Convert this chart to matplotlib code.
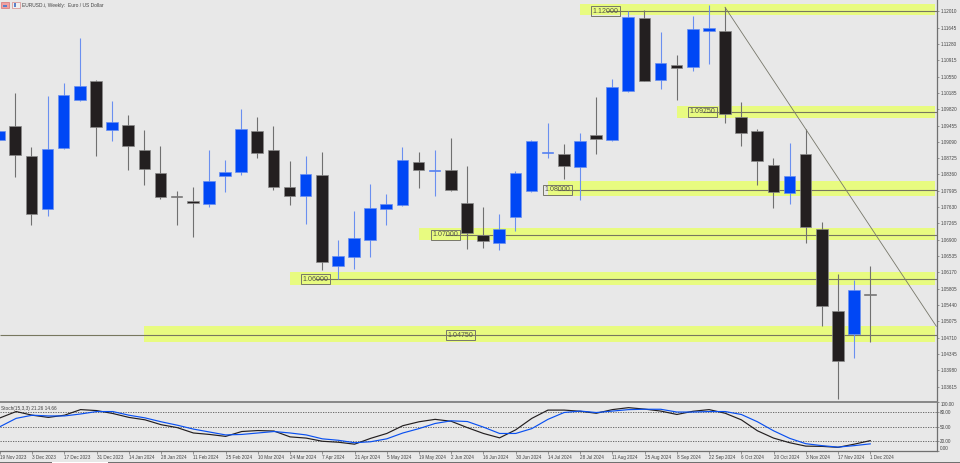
import matplotlib
matplotlib.use("Agg")
import matplotlib.pyplot as plt
from matplotlib.patches import Rectangle
import numpy as np

plt.rcParams['font.family'] = ['Liberation Sans', 'DejaVu Sans']

W, H = 960, 463
BG = '#E8E8E8'

opens = [1.09121,1.09449,1.08762,1.07576,1.08956,1.10031,1.10442,1.09352,1.09471,1.08912,1.08389,1.07867,1.07770,1.07695,
         1.08315,1.08419,1.09337,1.08912,1.08083,1.07867,1.08337,1.06314,1.06516,1.06896,1.07591,1.07680,1.08635,1.08434,
         1.08456,1.07710,1.07001,1.06829,1.07411,1.07979,1.08844,1.08822,1.08531,1.09233,1.09121,1.10225,1.11852,1.10464,
         1.10800,1.10755,1.11576,1.11561,1.09651,1.09337,1.08568,1.07934,1.08815,1.07135,1.05307,1.04792,1.05695]
highs = [1.09360,1.10188,1.08971,1.10106,1.10412,1.11405,1.10464,1.10001,1.09680,1.09345,1.08994,1.07979,1.08076,1.08904,
         1.08673,1.09822,1.09643,1.09442,1.08658,1.08770,1.08859,1.06904,1.07546,1.08143,1.07926,1.08971,1.08859,1.08904,
         1.09173,1.08538,1.07635,1.07479,1.08434,1.09128,1.09501,1.09039,1.09285,1.10098,1.10487,1.12009,1.12032,1.11554,
         1.11031,1.11905,1.12151,1.12099,1.09979,1.09374,1.08725,1.09068,1.09374,1.07292,1.06128,1.06008,1.06314]
lows = [1.09100,1.08292,1.07240,1.07426,1.08919,1.10009,1.08777,1.09113,1.08449,1.08135,1.07807,1.07225,1.06964,1.07628,
        1.07964,1.08352,1.08733,1.08016,1.07680,1.07255,1.06232,1.06016,1.06240,1.06516,1.07240,1.07650,1.08053,1.07882,
        1.07994,1.06687,1.06717,1.06665,1.07105,1.07964,1.08718,1.08255,1.07785,1.08822,1.09098,1.10210,1.10440,1.10263,
        1.10024,1.10681,1.10837,1.09509,1.09001,1.08113,1.07613,1.07695,1.06837,1.04971,1.03344,1.04262,1.04620]
closes = [1.09337,1.08785,1.07464,1.08934,1.10128,1.10345,1.09412,1.09524,1.08986,1.08479,1.07852,1.07852,1.07732,1.08203,
          1.08404,1.09382,1.08837,1.08068,1.07874,1.08374,1.06404,1.06538,1.06934,1.07620,1.07702,1.08673,1.08464,1.08456,
          1.08023,1.07046,1.06881,1.07135,1.08389,1.09098,1.08867,1.08553,1.09098,1.09143,1.10307,1.11890,1.10449,1.10845,
          1.10733,1.11621,1.11629,1.09710,1.09285,1.08650,1.07971,1.08330,1.07180,1.05426,1.04194,1.05784,1.05672]

stoch_k = [68,81,73.5,69,73.5,85,83,77,69,64,54,48,37,34,30,40,42,41,29,26.5,20,18,14,26,36,52,60,65,61,48,36,27,43.5,67,
           84,84,81.6,77.5,85,89,86,82,75,81.6,85,77.5,64,41.5,26.5,17,10,9.5,7.5,14,21.26]
stoch_d = [50,67,73.5,72,72,76,81,81,73.5,68,60,53,45,39,33,34,37,40,37,33,25,22,17,19,25,37,46,56.5,62,60.5,49,36,36,46,
           65,79,82,79,82,85,85.7,85.7,80,80,81,81,75,60,41.5,26,15,11,8,11,14.66]

level_values = [1.12000, 1.09750, 1.08000, 1.07000, 1.06000, 1.04750]
level_labels = ['1.12000', '1.09750', '1.08000', '1.07000', '1.06000', '1.04750']
zone_tops = [1.12170, 1.09889, 1.08203, 1.07172, 1.06179, 1.04963]
zone_bottoms = [1.11920, 1.09621, 1.07882, 1.06889, 1.05881, 1.04621]

price_ticks = [1.12010,1.11645,1.11280,1.10915,1.10550,1.10185,1.09820,1.09455,1.09090,1.08725,1.08360,1.07995,
               1.07630,1.07265,1.06900,1.06535,1.06170,1.05805,1.05440,1.05075,1.04710,1.04345,1.03980,1.03615]
date_labels = ['19 Nov 2023','3 Dec 2023','17 Dec 2023','31 Dec 2023','14 Jan 2024','28 Jan 2024','11 Feb 2024',
               '25 Feb 2024','10 Mar 2024','24 Mar 2024','7 Apr 2024','21 Apr 2024','5 May 2024','19 May 2024',
               '2 Jun 2024','16 Jun 2024','30 Jun 2024','14 Jul 2024','28 Jul 2024','11 Aug 2024','25 Aug 2024',
               '8 Sep 2024','22 Sep 2024','6 Oct 2024','20 Oct 2024','3 Nov 2024','17 Nov 2024','1 Dec 2024']
stoch_ticks = [100, 80, 50, 20, 0]
trend_prices = [1.12100, 1.04963]

# layout (pixels)
AX_R = 937.3
MAIN_BOTTOM = 402.3
SUB_BOTTOM = 451.0

fig = plt.figure(figsize=(W/100, H/100), dpi=100, facecolor=BG)
ax = fig.add_axes([0, 1-MAIN_BOTTOM/H, AX_R/W, MAIN_BOTTOM/H], facecolor=BG)
sub = fig.add_axes([0, 1-SUB_BOTTOM/H, AX_R/W, (SUB_BOTTOM-MAIN_BOTTOM)/H], facecolor=BG)

xlim = (-0.9485, 57.16)
ax.set_xlim(*xlim); ax.set_ylim(1.03262, 1.12263)
sub.set_xlim(*xlim); sub.set_ylim(0, 100)

idx = np.arange(-1, len(opens)-1)
BLUE, BLACK = '#0047F5', '#231F20'
BLUE_W, BLACK_W = '#6A8FF0', '#707070'
BLUE_E, BLACK_E = '#6A8FF0', '#8A8A8A'

# zones and levels
zone_start = [35, 41, 33, 25, 17, 8]
label_x = [36.6, 42.6, 33.6, 26.64, 18.6, 27.6]
line_start = [36.6, 42.6, 33.6, 26.64, 18.6, xlim[0]]
LINE = '#77775F'
for v, lab, t, b, zs, lx, ls in zip(level_values, level_labels, zone_tops, zone_bottoms, zone_start, label_x, line_start):
    ax.add_patch(Rectangle((zs, b), 57.0-zs, t-b, facecolor='#E8FB80', edgecolor='none', zorder=1))
    ax.plot([ls, xlim[1]], [v+0.00012, v+0.00012], color=LINE, lw=0.8, zorder=2, solid_capstyle='butt')
    ax.text(lx, v+0.00012, lab, ha='center', va='center', fontsize=5.1, color='#55554A', zorder=6,
            bbox=dict(boxstyle='square,pad=0.22', facecolor='none', edgecolor='#77776A', lw=0.7))

# candles
for i, o, h, l, c in zip(idx, opens, highs, lows, closes):
    up = c > o
    ax.plot([i, i], [l, h], color=BLUE_W if up else BLACK_W, lw=0.8, zorder=3, solid_capstyle='butt')
    ax.bar(i, max(abs(c-o), 0.00002), bottom=min(o, c), width=0.72, color=BLUE if up else BLACK,
           edgecolor=BLUE_E if up else BLACK_E, linewidth=0.5, zorder=4)

# trend line
ax.plot([44, 57.1], trend_prices, color='#77776A', lw=0.6, zorder=5)

# axes dressing
for a in (ax, sub):
    for s in a.spines.values():
        s.set_visible(False)
ax.spines['right'].set_visible(True); ax.spines['right'].set_color('#707070'); ax.spines['right'].set_linewidth(0.9)
sub.spines['right'].set_visible(True); sub.spines['right'].set_color('#707070'); sub.spines['right'].set_linewidth(0.9)
sub.spines['bottom'].set_visible(True); sub.spines['bottom'].set_color('#707070'); sub.spines['bottom'].set_linewidth(0.9)
sub.spines['top'].set_visible(True); sub.spines['top'].set_color('#808080'); sub.spines['top'].set_linewidth(1.3)

ax.set_xticks([])
ax.yaxis.tick_right()
ax.set_yticks(price_ticks)
ax.set_yticklabels([f'{p:.5f}' for p in price_ticks])
ax.tick_params(axis='y', length=1.6, width=0.5, color='#707070', labelsize=3.3, labelcolor='#444444', pad=0.5)

# stochastic
for lv in (80, 50, 20):
    sub.axhline(lv, color='#555555', lw=0.6, ls=(0, (1.5, 1.5)), zorder=1)
sub.plot(idx, stoch_k, color='#231F20', lw=0.85, zorder=3)
sub.plot(idx, stoch_d, color='#0A50F0', lw=0.85, zorder=4)
sub.yaxis.tick_right()
sub.set_yticks(stoch_ticks)
sub.set_yticklabels(['100.00', '80.00', '50.00', '20.00', '0.00'])
sub.tick_params(axis='y', length=1.6, width=0.5, color='#707070', labelsize=3.3, labelcolor='#444444', pad=0.5)
tl = sub.get_yticklabels()
tl[0].set_va('top'); tl[4].set_va('bottom')
sub.set_xticks(np.arange(-1, 54, 2))
sub.set_xticklabels(date_labels, ha='left')
sub.tick_params(axis='x', length=2.2, width=0.5, color='#707070', labelsize=3.35, labelcolor='#444444', pad=0.6)

sub.text(1/AX_R, 0.93, 'Stoch(15,3,3) 21.26 14.66', transform=sub.transAxes, fontsize=3.4,
         color='#444444', va='top', ha='left')

# title and icons
fig.text(22.5/W, 1-5/H, 'EURUSD.i, Weekly:  Euro / US Dollar', fontsize=3.5, color='#444444', va='center', ha='left')
fig.add_artist(Rectangle((1/W, 1-8/H), 8/W, 6/H, transform=fig.transFigure, facecolor='#F0A0A0', edgecolor='#D06060', lw=0.4))
fig.add_artist(Rectangle((3/W, 1-7/H), 4/W, 2/H, transform=fig.transFigure, facecolor='#5A80C8', edgecolor='none'))
fig.add_artist(Rectangle((12/W, 1-8/H), 8/W, 6/H, transform=fig.transFigure, facecolor='#F0F0F0', edgecolor='#D07070', lw=0.4))
fig.add_artist(Rectangle((14/W, 1-7/H), 2/W, 4/H, transform=fig.transFigure, facecolor='#5A80C8', edgecolor='none'))

# window border at the bottom
fig.add_artist(Rectangle((0, 0), 1, 1.5/H, transform=fig.transFigure, facecolor='#707070', edgecolor='none'))
fig.add_artist(Rectangle((52/W, 0), 56/W, 1.5/H, transform=fig.transFigure, facecolor='#FFFFFF', edgecolor='none'))

fig.savefig('out.png', dpi=100, facecolor=BG)
